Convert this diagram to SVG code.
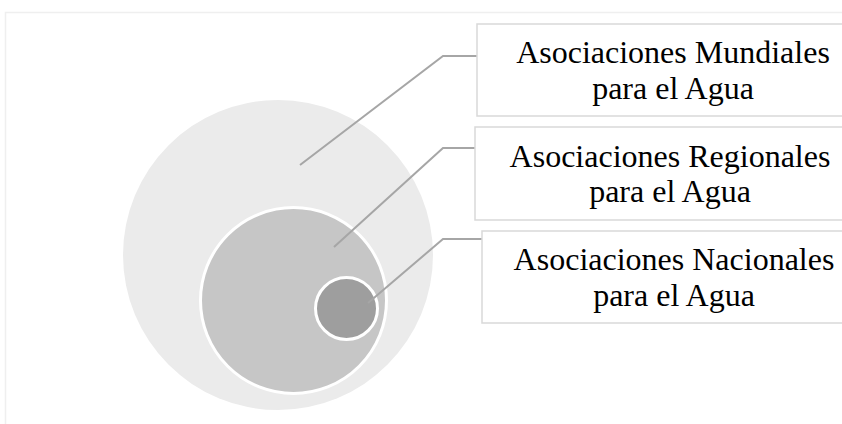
<svg xmlns="http://www.w3.org/2000/svg" width="842" height="424" viewBox="0 0 842 424">
  <style>
    .frame { fill: none; stroke: #efefef; stroke-width: 1.5; }
    .box { fill: #ffffff; stroke: #d9d9d9; stroke-width: 1.5; }
    .label { font-family: "Liberation Serif", "Times New Roman", serif; font-size: 32px; fill: #000000; text-anchor: middle; }
    .ring { stroke: #ffffff; stroke-width: 3; }
    .link { fill: none; stroke: #a6a6a6; stroke-width: 2; }
  </style>

  <rect width="842" height="424" fill="#ffffff"/>
  <rect class="frame" x="5.5" y="12.5" width="860" height="430"/>

  <!-- nested circles -->
  <g id="circle-mundial">
    <circle cx="278" cy="255" r="155" fill="#ebebeb"/>
  </g>
  <g id="circle-regional">
    <circle class="ring" cx="293.5" cy="300.5" r="93" fill="#c6c6c6"/>
  </g>
  <g id="circle-nacional">
    <circle class="ring" cx="346.5" cy="308.5" r="31" fill="#9e9e9e"/>
  </g>

  <!-- connectors from circles to labels -->
  <g id="connectors">
    <polyline class="link" points="300,165 443,56 478,56"/>
    <polyline class="link" points="334,247 443,148 476,148"/>
    <polyline class="link" points="368,303 443,239 482,239"/>
  </g>

  <!-- label boxes -->
  <g id="label-mundiales">
    <rect class="box" x="477" y="24" width="380" height="92"/>
    <text class="label" x="673" y="63">Asociaciones Mundiales</text>
    <text class="label" x="673" y="98.5">para el Agua</text>
  </g>
  <g id="label-regionales">
    <rect class="box" x="475" y="127" width="380" height="93"/>
    <text class="label" x="670" y="166.5">Asociaciones Regionales</text>
    <text class="label" x="670" y="202">para el Agua</text>
  </g>
  <g id="label-nacionales">
    <rect class="box" x="482" y="231" width="380" height="92"/>
    <text class="label" x="674" y="270">Asociaciones Nacionales</text>
    <text class="label" x="674" y="305.5">para el Agua</text>
  </g>
</svg>
